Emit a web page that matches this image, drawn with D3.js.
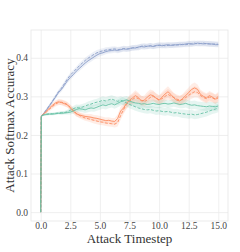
<!DOCTYPE html>
<html>
<head>
<meta charset="utf-8">
<script src="https://cdn.jsdelivr.net/npm/d3@7"></script>
<style>
  body { margin: 0; background: #fff; }
  text { font-family: "Liberation Serif", "DejaVu Serif", serif; }
</style>
</head>
<body>
<div id="chart"></div>
<script>
// timesteps: 0, 0.05, then every 0.25 up to 15
const steps = [0, 0.05].concat(d3.range(1, 61).map(i => i * 0.25));

const xTicks = [0, 2.5, 5, 7.5, 10, 12.5, 15];
const yTicks = [0, 0.1, 0.2, 0.3, 0.4];

const blueSolid = [0, 0.248, 0.255, 0.265, 0.276, 0.287, 0.298, 0.31, 0.318, 0.329, 0.34, 0.349, 0.356, 0.365, 0.372, 0.379,
  0.386, 0.392, 0.397, 0.402, 0.407, 0.411, 0.413, 0.416, 0.418, 0.419, 0.42, 0.419, 0.421, 0.423, 0.422,
  0.424, 0.426, 0.425, 0.428, 0.429, 0.428, 0.43, 0.431, 0.429, 0.432, 0.433, 0.431, 0.433, 0.434, 0.432,
  0.434, 0.433, 0.435, 0.434, 0.436, 0.437, 0.435, 0.436, 0.438, 0.437, 0.436, 0.437, 0.435, 0.436, 0.434, 0.434];
const blueDashed = [0, 0.248, 0.256, 0.266, 0.277, 0.288, 0.3, 0.312, 0.321, 0.333, 0.345, 0.355, 0.363, 0.371, 0.379, 0.386,
  0.393, 0.399, 0.404, 0.409, 0.413, 0.416, 0.418, 0.42, 0.421, 0.422, 0.423, 0.421, 0.422, 0.424, 0.423,
  0.423, 0.425, 0.427, 0.426, 0.43, 0.431, 0.429, 0.431, 0.43, 0.431, 0.432, 0.433, 0.431, 0.432, 0.433,
  0.432, 0.434, 0.433, 0.435, 0.434, 0.435, 0.437, 0.438, 0.436, 0.437, 0.438, 0.436, 0.437, 0.435, 0.436, 0.435];
const orangeSolid = [0, 0.248, 0.255, 0.262, 0.27, 0.277, 0.283, 0.286, 0.284, 0.281, 0.278, 0.27, 0.262, 0.255, 0.252, 0.25,
  0.248, 0.247, 0.246, 0.244, 0.243, 0.241, 0.239, 0.237, 0.238, 0.236, 0.235, 0.243, 0.262, 0.27, 0.282,
  0.29, 0.296, 0.302, 0.297, 0.288, 0.29, 0.298, 0.304, 0.302, 0.295, 0.29, 0.298, 0.306, 0.312, 0.305,
  0.296, 0.29, 0.288, 0.295, 0.302, 0.31, 0.318, 0.322, 0.318, 0.305, 0.3, 0.296, 0.302, 0.298, 0.293, 0.3];
const orangeDashed = [0, 0.248, 0.254, 0.26, 0.267, 0.274, 0.28, 0.284, 0.285, 0.283, 0.279, 0.272, 0.264, 0.256, 0.251, 0.247,
  0.244, 0.242, 0.24, 0.238, 0.236, 0.234, 0.233, 0.231, 0.23, 0.229, 0.228, 0.232, 0.25, 0.266, 0.279,
  0.288, 0.292, 0.297, 0.294, 0.29, 0.286, 0.291, 0.297, 0.3, 0.296, 0.291, 0.294, 0.3, 0.305, 0.301,
  0.297, 0.293, 0.29, 0.292, 0.297, 0.303, 0.308, 0.312, 0.31, 0.302, 0.297, 0.294, 0.298, 0.296, 0.292, 0.296];
const greenSolid = [0, 0.249, 0.252, 0.253, 0.254, 0.254, 0.255, 0.256, 0.256, 0.257, 0.258, 0.259, 0.262, 0.266, 0.268, 0.267,
  0.265, 0.268, 0.27, 0.269, 0.272, 0.275, 0.278, 0.276, 0.279, 0.281, 0.278, 0.282, 0.286, 0.289, 0.291,
  0.288, 0.285, 0.283, 0.282, 0.28, 0.281, 0.279, 0.28, 0.282, 0.28, 0.279, 0.281, 0.282, 0.28, 0.281,
  0.283, 0.281, 0.279, 0.28, 0.282, 0.279, 0.277, 0.278, 0.276, 0.275, 0.274, 0.273, 0.275, 0.274, 0.273, 0.275];
const greenDashed = [0, 0.249, 0.252, 0.254, 0.255, 0.255, 0.256, 0.257, 0.258, 0.258, 0.26, 0.264, 0.268, 0.271, 0.27, 0.272,
  0.275, 0.278, 0.28, 0.283, 0.285, 0.287, 0.29, 0.288, 0.291, 0.293, 0.29, 0.287, 0.29, 0.287, 0.283,
  0.279, 0.276, 0.273, 0.27, 0.268, 0.266, 0.265, 0.266, 0.264, 0.262, 0.263, 0.261, 0.26, 0.261, 0.259,
  0.257, 0.258, 0.256, 0.255, 0.254, 0.253, 0.254, 0.252, 0.253, 0.255, 0.257, 0.259, 0.262, 0.265, 0.267, 0.27];

// half-width of the shaded bands
const blueSpread = [0, 0.002, 0.003, 0.004, 0.004, 0.005, 0.005, 0.005, 0.006, 0.006, 0.006, 0.006, 0.006, 0.006, 0.007, 0.007,
  0.007, 0.007, 0.007, 0.007, 0.007, 0.007, 0.007, 0.007, 0.007, 0.007, 0.007, 0.007, 0.007, 0.007, 0.007,
  0.007, 0.007, 0.007, 0.007, 0.007, 0.007, 0.007, 0.007, 0.007, 0.007, 0.007, 0.007, 0.007, 0.007, 0.007,
  0.007, 0.007, 0.007, 0.007, 0.007, 0.007, 0.007, 0.007, 0.007, 0.007, 0.007, 0.007, 0.007, 0.007, 0.007, 0.007];
const orangeSpread = [0, 0.002, 0.003, 0.004, 0.005, 0.006, 0.006, 0.007, 0.007, 0.007, 0.007, 0.007, 0.007, 0.007, 0.007, 0.007,
  0.007, 0.007, 0.008, 0.008, 0.008, 0.008, 0.008, 0.008, 0.008, 0.008, 0.009, 0.01, 0.011, 0.012, 0.012,
  0.012, 0.013, 0.014, 0.013, 0.012, 0.012, 0.013, 0.014, 0.013, 0.012, 0.012, 0.013, 0.013, 0.014, 0.013,
  0.012, 0.012, 0.012, 0.012, 0.013, 0.013, 0.014, 0.014, 0.013, 0.012, 0.012, 0.012, 0.012, 0.012, 0.012, 0.012];
const greenSpread = [0, 0.002, 0.002, 0.003, 0.003, 0.003, 0.003, 0.003, 0.004, 0.004, 0.005, 0.006, 0.007, 0.008, 0.008, 0.008,
  0.008, 0.009, 0.009, 0.009, 0.009, 0.01, 0.01, 0.01, 0.01, 0.01, 0.01, 0.01, 0.01, 0.01, 0.01,
  0.01, 0.01, 0.01, 0.01, 0.01, 0.01, 0.01, 0.01, 0.01, 0.01, 0.01, 0.01, 0.01, 0.01, 0.01,
  0.01, 0.01, 0.01, 0.011, 0.011, 0.011, 0.011, 0.011, 0.011, 0.011, 0.011, 0.011, 0.011, 0.011, 0.011, 0.011];

const series = [
  { values: blueSolid, spread: blueSpread, color: "#8da0cb", dash: null },
  { values: blueDashed, spread: blueSpread, color: "#8da0cb", dash: "3,1.6" },
  { values: orangeSolid, spread: orangeSpread, color: "#fc8d62", dash: null },
  { values: orangeDashed, spread: orangeSpread, color: "#fc8d62", dash: "3,1.6" },
  { values: greenSolid, spread: greenSpread, color: "#66c2a5", dash: null },
  { values: greenDashed, spread: greenSpread, color: "#66c2a5", dash: "3,1.6" }
];

// set the dimensions and margins of the graph
const W = 240, H = 252;
const margin = { top: 30, right: 12, bottom: 31, left: 31 },
  width = W - margin.left - margin.right,
  height = H - margin.top - margin.bottom;

const x = d3.scaleLinear().domain([-0.82, 15.82]).range([0, width]);
const y = d3.scaleLinear().domain([-0.023, 0.472]).range([height, 0]);

const svg = d3.select("#chart").append("svg")
  .attr("width", W)
  .attr("height", H)
  .append("g")
  .attr("transform", "translate(" + margin.left + "," + margin.top + ")");

// grid lines
svg.append("g")
  .attr("transform", "translate(0," + height + ")")
  .call(d3.axisBottom(x).tickValues(xTicks).tickSize(-height).tickFormat(""))
  .call(g => g.select(".domain").remove())
  .selectAll("line").attr("stroke", "#ebebeb").attr("stroke-width", 0.8);

svg.append("g")
  .call(d3.axisLeft(y).tickValues(yTicks).tickSize(-width).tickFormat(""))
  .call(g => g.select(".domain").remove())
  .selectAll("line").attr("stroke", "#ebebeb").attr("stroke-width", 0.8);

// frame
svg.append("rect")
  .attr("width", width)
  .attr("height", height)
  .attr("fill", "none")
  .attr("stroke", "#e6e6e6")
  .attr("stroke-width", 0.8);

const area = d3.area()
  .x((d, i) => x(steps[i]))
  .y0(d => y(d[0]))
  .y1(d => y(d[1]));

const line = d3.line()
  .x((d, i) => x(steps[i]))
  .y(d => y(d));

// bands first
series.forEach(s => {
  const band = s.values.map((v, i) => [v - s.spread[i], v + s.spread[i]]);
  svg.append("path")
    .datum(band)
    .attr("fill", s.color)
    .attr("fill-opacity", 0.16)
    .attr("d", area);
});

series.forEach(s => {
  svg.append("path")
    .datum(s.values)
    .attr("fill", "none")
    .attr("stroke", s.color)
    .attr("stroke-width", 0.9)
    .attr("stroke-dasharray", s.dash)
    .attr("d", line);
});

// Add the X Axis
svg.append("g")
  .attr("transform", "translate(0," + height + ")")
  .call(d3.axisBottom(x).tickValues(xTicks).tickSize(0).tickPadding(1.5).tickFormat(d3.format(".1f")))
  .call(g => g.select(".domain").remove())
  .selectAll("text")
  .attr("fill", "#444")
  .style("font-size", "9.5px");

// Add the Y Axis
svg.append("g")
  .call(d3.axisLeft(y).tickValues(yTicks).tickSize(0).tickPadding(3).tickFormat(d3.format(".1f")))
  .call(g => g.select(".domain").remove())
  .selectAll("text")
  .attr("fill", "#444")
  .style("font-size", "9.5px");

// axis labels
svg.append("text")
  .attr("x", width / 2)
  .attr("y", height + 22)
  .attr("text-anchor", "middle")
  .attr("fill", "#333")
  .style("font-size", "13px")
  .text("Attack Timestep");

svg.append("text")
  .attr("transform", "translate(" + (-17) + "," + (height / 2) + ") rotate(-90)")
  .attr("text-anchor", "middle")
  .attr("fill", "#333")
  .style("font-size", "13px")
  .text("Attack Softmax Accuracy");
</script>
</body>
</html>
